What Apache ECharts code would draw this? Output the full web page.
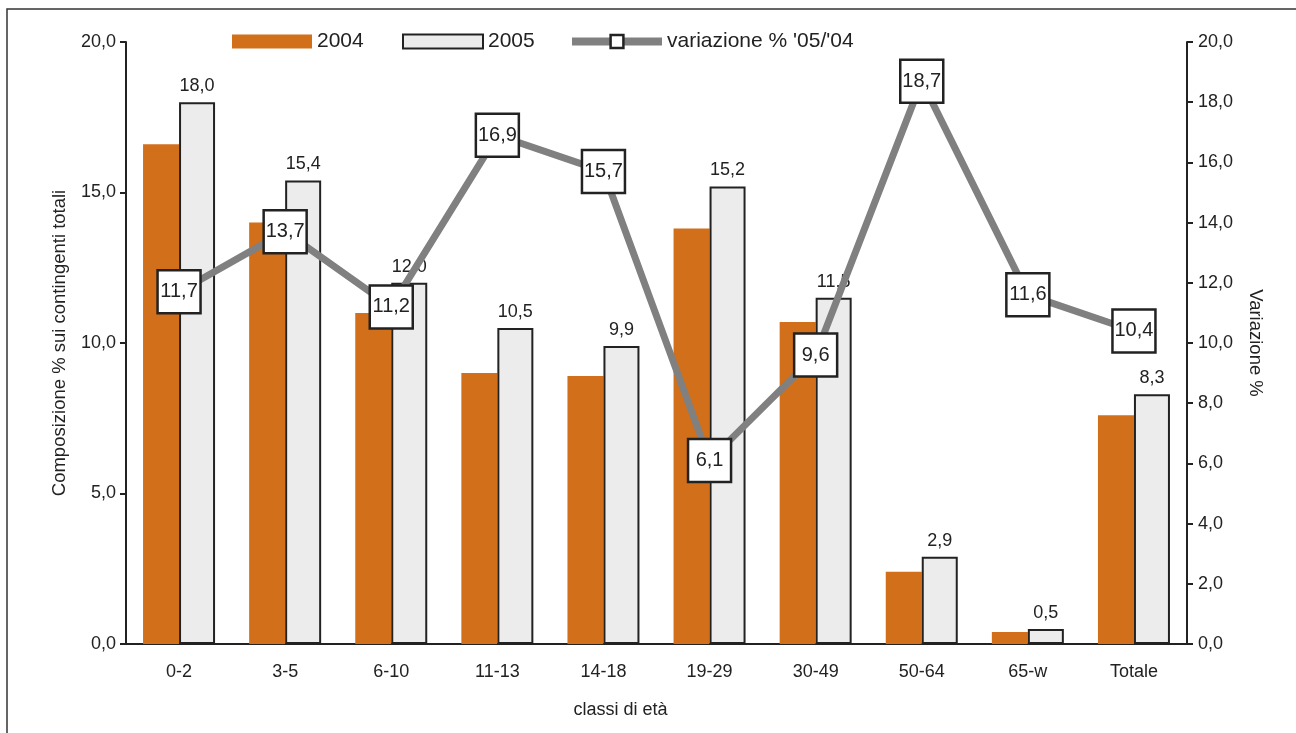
<!DOCTYPE html>
<html><head><meta charset="utf-8">
<script src="https://cdn.jsdelivr.net/npm/echarts@6/dist/echarts.min.js"></script>
<style>html,body{margin:0;padding:0;background:#fff}#c{width:1296px;height:733px}</style>
</head><body><div id="c"></div>
<script>
const categories = ['0-2','3-5','6-10','11-13','14-18','19-29','30-49','50-64','65-w','Totale'];
const values2004 = [16.6, 14.0, 11.0, 9.0, 8.9, 13.8, 10.7, 2.4, 0.4, 7.6];
const values2005 = [18.0, 15.4, 12.0, 10.5, 9.9, 15.2, 11.5, 2.9, 0.5, 8.3];
const variazione = [11.7, 13.7, 11.2, 16.9, 15.7, 6.1, 9.6, 18.7, 11.6, 10.4];

const fmt = v => Number(v).toFixed(1).replace('.', ',');
const font = 'Liberation Sans, Arial, sans-serif';
const legText = {fontSize: 21, color: '#222', fontFamily: font};
const chart = echarts.init(document.getElementById('c'));
chart.setOption({
  animation: false,
  textStyle: {fontFamily: font, color: '#222'},
  graphic: [{type: 'rect', shape: {x: 7, y: 9, width: 1300, height: 740}, style: {fill: 'none', stroke: '#333', lineWidth: 1.5}, silent: true}],
  legend: [{
    left: 232, top: 31, padding: 0, itemWidth: 80, itemHeight: 14, icon: 'rect', itemGap: 5, textStyle: legText,
    data: [{name: '2004', itemStyle: {color: '#d16f1a', borderWidth: 0}}]
  }, {
    left: 402, top: 31, padding: 0, itemWidth: 80, itemHeight: 14, icon: 'rect', itemGap: 5, textStyle: legText,
    data: [{name: '2005', itemStyle: {color: '#ececec', borderColor: '#222', borderWidth: 2}}]
  }, {
    left: 568, top: 31, padding: 0, itemWidth: 90, itemHeight: 16, itemGap: 5, textStyle: legText,
    data: [{name: "variazione % '05/'04", lineStyle: {color: '#808080', width: 8}, itemStyle: {color: '#fff', borderColor: '#222', borderWidth: 2.5}}]
  }],
  grid: {left: 126, right: 109, top: 42, bottom: 89},
  xAxis: {
    type: 'category', data: categories,
    name: 'classi di età', nameLocation: 'middle', nameGap: 57,
    nameTextStyle: {fontSize: 18, color: '#222', padding: [0, 72, 0, 0]},
    axisLine: {lineStyle: {color: '#222', width: 2}},
    axisTick: {show: false},
    axisLabel: {fontSize: 18, color: '#222', margin: 19}
  },
  yAxis: [{
    type: 'value', min: 0, max: 20, interval: 5,
    name: 'Composizione % sui contingenti totali', nameLocation: 'middle', nameGap: 57,
    nameTextStyle: {fontSize: 18.5, color: '#222'},
    axisLine: {show: true, lineStyle: {color: '#222', width: 2}},
    axisTick: {show: true, length: 6, lineStyle: {color: '#222', width: 2}},
    axisLabel: {fontSize: 18, color: '#222', formatter: fmt, margin: 10},
    splitLine: {show: false}
  }, {
    type: 'value', min: 0, max: 20, interval: 2, position: 'right',
    name: 'Variazione %', nameLocation: 'middle', nameGap: 59, nameRotate: -90,
    nameTextStyle: {fontSize: 18.5, color: '#222'},
    axisLine: {show: true, lineStyle: {color: '#222', width: 2}},
    axisTick: {show: true, length: 6, lineStyle: {color: '#222', width: 2}},
    axisLabel: {fontSize: 18, color: '#222', formatter: fmt, margin: 11},
    splitLine: {show: false}
  }],
  series: [{
    name: '2004', type: 'bar', data: values2004, barWidth: 36, barGap: '0%',
    itemStyle: {color: '#d16f1a'}
  }, {
    name: '2005', type: 'bar', data: values2005, barWidth: 36,
    itemStyle: {color: '#ececec', borderColor: '#222', borderWidth: 2},
    label: {show: true, position: 'top', distance: 7, fontSize: 18, color: '#222', formatter: p => fmt(p.value)}
  }, {
    name: "variazione % '05/'04", type: 'line', yAxisIndex: 1, data: variazione,
    lineStyle: {color: '#808080', width: 7},
    itemStyle: {color: '#fff', borderColor: '#222', borderWidth: 2.5},
    symbol: 'rect', symbolSize: [43, 43], z: 5,
    label: {show: true, position: 'inside', fontSize: 20, color: '#222', formatter: p => fmt(p.value)}
  }]
});
</script></body></html>
